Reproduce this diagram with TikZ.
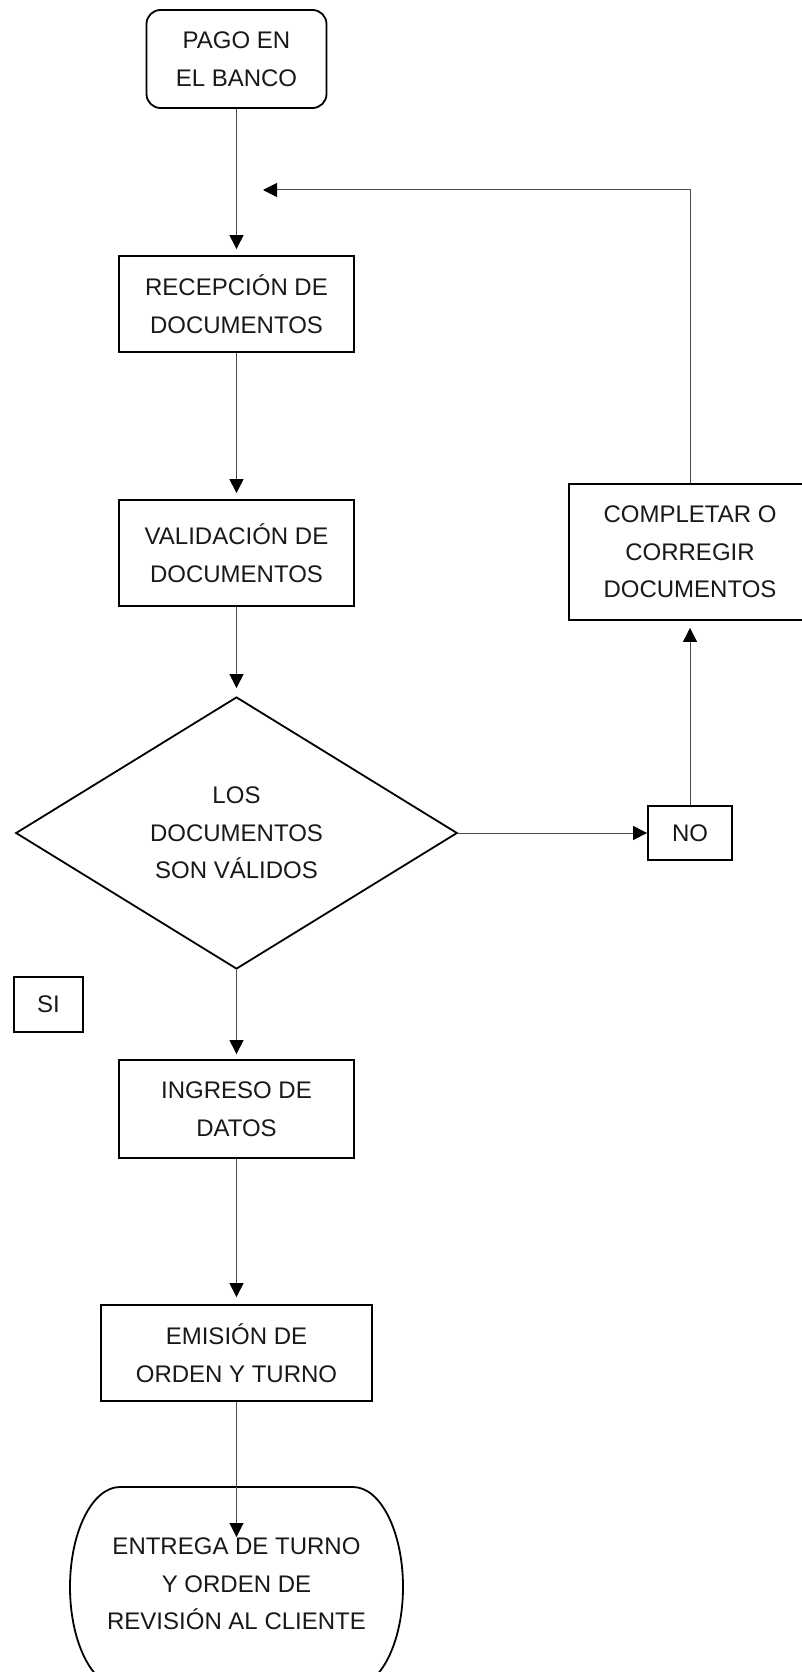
\documentclass[tikz,border=0pt]{standalone}
\usepackage{fontspec}
\setmainfont{Liberation Sans}
\usetikzlibrary{shapes.geometric,arrows.meta}
\begin{document}
\begin{tikzpicture}[x=1pt,y=-1pt,
  every node/.style={font=\fontsize{24}{37.5}\selectfont, text=black!90, align=center, inner sep=0pt},
  box/.style={draw=black, line width=1.8pt, rectangle},
  conn/.style={draw=black!70, line width=1pt, -{Triangle[length=14pt,width=14pt,color=black]}}]
\useasboundingbox (0,0) rectangle (801,1672);
\fill[white] (0,0) rectangle (801,1672);

\node[box, rounded corners=14pt, minimum width=180pt, minimum height=98pt] (pago) at (236.5,59) {PAGO EN\\EL BANCO};
\node[box, minimum width=234.5pt, minimum height=96pt] (recep) at (236.5,304) {RECEPCIÓN DE\\DOCUMENTOS};
\node[box, minimum width=234.5pt, minimum height=106pt] (valid) at (236.5,553) {VALIDACIÓN DE\\DOCUMENTOS};
\node[draw=black, line width=1.8pt, diamond, aspect=1.6, minimum width=441.5pt, minimum height=272pt] (dec) at (236.5,833) {LOS\\DOCUMENTOS\\SON VÁLIDOS};
\node[box, minimum width=84pt, minimum height=54pt] (no) at (690,833) {NO};
\node[box, minimum width=242pt, minimum height=136pt] (comp) at (690,552) {COMPLETAR O\\CORREGIR\\DOCUMENTOS};
\node[box, minimum width=69pt, minimum height=55pt] (si) at (48.5,1004.5) {SI};
\node[box, minimum width=234.5pt, minimum height=98pt] (ingreso) at (236.5,1109) {INGRESO DE\\DATOS};
\node[box, minimum width=271pt, minimum height=96pt] (emision) at (236.5,1353) {EMISIÓN DE\\ORDEN Y TURNO};

% terminal shape (cut by the page bottom)
\draw[black, line width=1.8pt]
  (120,1487) -- (353,1487)
  .. controls (380.6,1487) and (403,1531.8) .. (403,1587)
  .. controls (403,1642.2) and (380.6,1687) .. (353,1687)
  -- (120,1687)
  .. controls (92.4,1687) and (70,1642.2) .. (70,1587)
  .. controls (70,1531.8) and (92.4,1487) .. (120,1487) -- cycle;
\node (entrega) at (236.5,1584) {ENTREGA DE TURNO\\Y ORDEN DE\\REVISIÓN AL CLIENTE};

\coordinate (fbTip) at (263,190);
\coordinate (entregaTip) at (236.5,1537);

\draw[conn, shorten >=6pt] (pago) -- (recep);
\draw[conn, shorten >=6pt] (recep) -- (valid);
\draw[conn, shorten >=8pt] (valid) -- (dec);
\draw[conn] (dec.east) -- (no.west);
\draw[conn, shorten >=7pt] (no) -- (comp);
\draw[conn] (comp.north) |- (fbTip);
\draw[conn, shorten >=5pt] (dec.south) -- (ingreso.north);
\draw[conn, shorten >=7pt] (ingreso) -- (emision);
\draw[conn] (emision.south) -- (entregaTip);
\end{tikzpicture}
\end{document}
